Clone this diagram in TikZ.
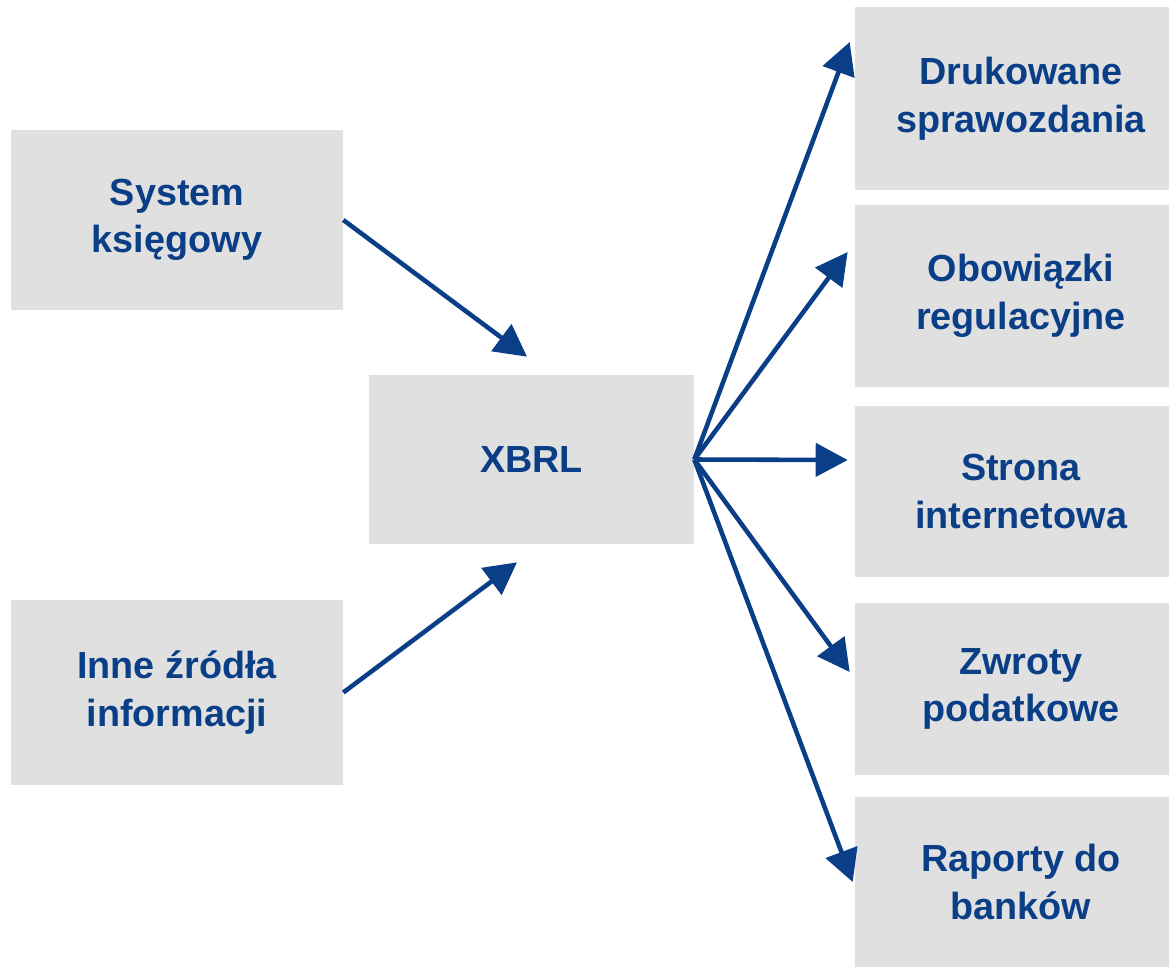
\documentclass[tikz,border=0pt]{standalone}
\usepackage{fontspec}
\setmainfont{Liberation Sans}
\usetikzlibrary{arrows.meta}
\definecolor{xblue}{HTML}{0A3F88}
\definecolor{boxgray}{HTML}{E0E0E0}

\begin{document}
\begin{tikzpicture}[x=0.02cm,y=-0.02cm,
    box node/.style={rectangle,fill=boxgray,text=xblue,align=center,inner sep=0pt,
      minimum width=6.64cm,font=\fontsize{21.5}{27}\selectfont\bfseries},
    link/.style={draw,color=xblue,line width=2.6pt,-{Triangle[length=0.64cm,width=0.66cm]}}]

  \useasboundingbox (0,0) rectangle (1169,967);

  % Define vertices
  \node[box node,minimum height=3.62cm] (sys) at (177,220) {System\\księgowy};
  \node[box node,minimum height=3.70cm] (inne) at (177,692.5) {Inne źródła\\informacji};
  \node[box node,minimum width=6.5cm,minimum height=3.38cm] (xbrl) at (531.5,459.5) {XBRL};
  \node[box node,minimum height=3.67cm] (druk) at (1021,98.75) {Drukowane\\sprawozdania};
  \node[box node,minimum height=3.64cm] (obow) at (1021,296) {Obowiązki\\regulacyjne};
  \node[box node,minimum height=3.42cm] (www) at (1021,491.5) {Strona\\internetowa};
  \node[box node,minimum height=3.44cm] (zwrot) at (1021,689) {Zwroty\\podatkowe};
  \node[box node,minimum height=3.40cm] (bank) at (1021,882) {Raporty do\\banków};

  % Draw edges
  \path[every edge/.style=link]
    (sys.east) edge ([shift={(-4.5,-18)}]xbrl.north)
    (inne.east) edge ([shift={(-14.5,18)}]xbrl.south)
    (xbrl.east) edge ([shift={(-5,-56.75)}]druk.west)
    (xbrl.east) edge ([shift={(-7,-44)}]obow.west)
    (xbrl.east) edge ([shift={(-7,-31.5)}]www.west)
    (xbrl.east) edge ([shift={(-5,-17)}]zwrot.west)
    (xbrl.east) edge ([shift={(-2,0)}]bank.west);

\end{tikzpicture}
\end{document}
